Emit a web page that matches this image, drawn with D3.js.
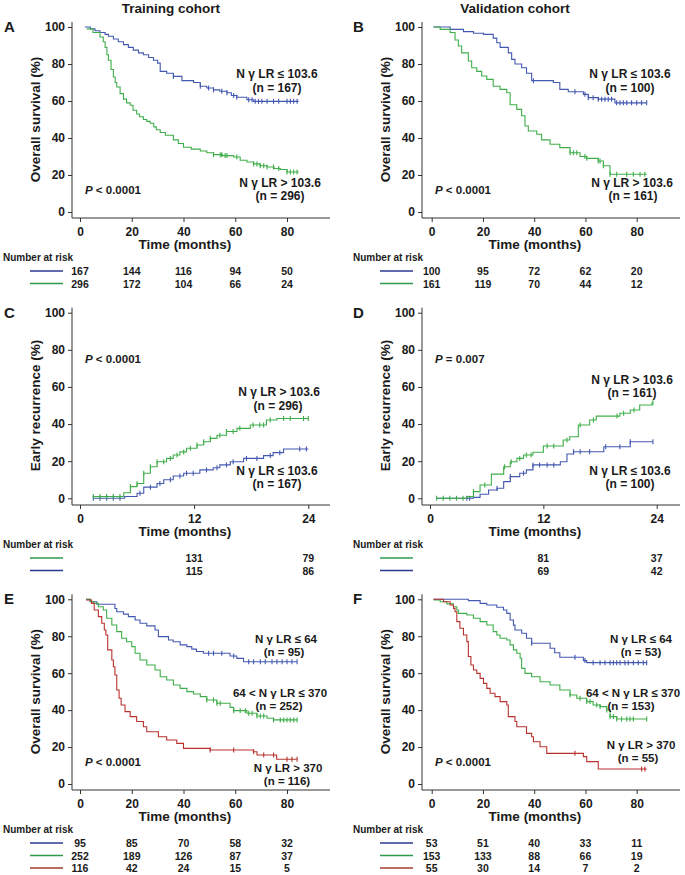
<!DOCTYPE html>
<html>
<head>
<meta charset="utf-8">
<script src="https://cdn.jsdelivr.net/npm/d3@7"></script>
<style>
  body { margin: 0; background: #fff; }
  svg text { font-family: "Liberation Sans", Arial, sans-serif; font-weight: bold; fill: #1a1a1a; }
</style>
</head>
<body>
<div id="chart"></div>
<script>
// ---- data ----
const osTicks = [0, 20, 40, 60, 80];
const erTicks = [0, 12, 24];
const pctTicks = [0, 20, 40, 60, 80, 100];

// A: training cohort, overall survival
const aLow = [[1.9,100],[4,99],[5.8,98],[7.7,97],[9.7,96],[11,95],[12.9,93.5],[14.8,92],[16.8,90.5],[18.7,89],[20.6,87.5],[22.6,86],[24.5,85],[26.5,83.5],[28.4,82],[30,80.5],[31,76],[33.5,75],[36.1,73.3],[39.4,71],[43.9,70],[46.5,68],[49,67],[51.6,66],[54,65.3],[56.8,64.5],[58.5,63],[60.6,62],[64.5,60.7],[67.1,59.8],[84.5,59.8]];
const aLowCens = [36.1,46.5,49.7,51.6,54.8,56.8,59.4,60.6,65.2,66.5,67.7,69,70.3,72.3,74.8,76.8,80,81.3,82.6,83.9];
const aHigh = [[2.6,99],[5,97],[7.7,94.6],[9,92],[9.7,89],[10.4,85],[11,82],[12,77],[12.9,73],[13.6,70],[14.2,67.6],[15.5,64],[16.8,61],[18,59],[19.4,57.7],[20.5,55],[21.9,53],[23,51.5],[24.5,50],[25.8,49],[27.1,48],[28.5,46],[29.5,44.5],[31,43],[33,41.5],[36.1,39],[38,37],[40,35],[43,34],[46.5,33],[49,32],[51.6,31],[55,30.5],[59.4,29.7],[61.9,28],[64.5,27],[67.1,26],[69.5,25],[72.3,24.3],[75,23.5],[77.4,23],[80,21.6],[84.5,21.6]];
const aHighCens = [51.6,54.2,54.8,56.1,56.8,60.6,67.1,68.4,69.7,71,72.3,74.8,76.8,80,81.3,82.6,83.9];
const riskA = [[167,144,116,94,50],[296,172,104,66,24]];

// B: validation cohort, overall survival
const bLow = [[0.7,100],[7.2,98.7],[12.4,97.5],[16.3,96.6],[20.2,96],[24,94],[25.4,91.5],[26.7,89],[29.9,86],[31.2,82.5],[32.5,80],[35.1,78],[37,75],[39,71],[47.5,70],[50,66.3],[53.3,65],[59.2,63.6],[61.1,61.8],[65,61],[71.5,59],[83.9,59]];
const bLowCens = [39.7,55.9,59.8,61.1,63,65,66.3,67.6,68.9,70.2,72.2,73.5,74.8,76.1,78,80,81.9,83.9];
const bHigh = [[0.7,100],[3.3,98.7],[7.2,97],[9.1,93],[10.4,89.7],[11.7,86],[14.3,81.6],[15.6,78],[17.6,76],[19.5,73.5],[21.5,71.7],[24,68],[26.7,66.3],[29.3,64.5],[30.6,58],[33.2,55.5],[35.1,52],[36.4,46.5],[37.7,43.8],[41,42],[42.9,39],[46.2,36.6],[50,34.8],[54,32],[57.9,30],[60.5,29],[65,27.6],[67,25],[69.6,20.4],[83.9,20.4]];
const bHighCens = [54,55.3,56.6,59.8,60.5,65,65.7,67,69.6,72.2,76.1,78.7,81.3,83.2];
const riskB = [[100,95,72,62,20],[161,119,70,44,12]];

// C: training cohort, early recurrence
const cHigh = [[1.4,1],[4.6,3],[5.3,6.3],[6,8],[6.7,13.5],[7.4,17],[8.1,19.7],[9.1,21.5],[9.8,23.3],[10.5,25],[11.2,27],[12.3,28.7],[13,30.5],[13.7,32.3],[14.4,34],[15.4,36],[16.5,37.7],[17.9,39.5],[19.6,42.2],[20.7,43],[24,43]];
const cHighCens = [1.4,2.1,2.8,3.5,4.2,5.3,6,6.7,7.4,8.1,8.8,9.5,10.2,10.9,11.6,12.3,13,13.7,14.7,15.4,16.1,16.8,18.2,18.9,19.3,20,21.4,22.1,23.5,24];
const cLow = [[1.4,0],[4.7,1],[6,2.7],[6.7,6],[8.1,8],[8.8,10],[9.8,12],[10.9,13.5],[12.6,15.3],[14,16.5],[14.7,18],[15.8,19.7],[17.2,21.5],[19.3,23],[20.3,24.6],[21.4,26.6],[24,26.6]];
const cLowCens = [1.4,2.1,2.8,3.5,4.2,6.3,7.4,8.4,9.5,10.5,11.2,11.9,13.3,14.4,15.4,16.1,17.5,18.6,20,21,23.1,23.8];
const riskC = [[131,79],[115,86]];

// D: validation cohort, early recurrence
const dHigh = [[0.7,0],[3.9,0.9],[4.6,3.6],[5.3,7.2],[6.5,13],[7.8,17],[8.5,19.7],[9.2,21.5],[9.9,23.3],[10.9,24.8],[12,28.2],[14.1,31.4],[14.8,33.2],[15.7,39.5],[16.9,42.2],[17.6,44.3],[20.1,45.8],[21.2,47.6],[22.2,50.3],[23.5,51.5],[23.6,51.5]];
const dHighCens = [0.7,1.4,2.1,2.8,3.5,4.6,5.8,7.9,8.6,9.5,10.2,10.7,12.4,13.1,14.5,15.9,17.3,19.8,20.5,21.6,23.6];
const dLow = [[0.7,0],[4.6,0.5],[5.3,2.2],[6.2,4.5],[7.1,5.4],[7.8,9],[8.5,11.7],[9.5,13.5],[10.2,15.3],[10.9,18],[13.8,19.7],[14.5,23.9],[15.2,25.1],[18.4,27.8],[21.2,30.5],[23.6,30.5]];
const dLowCens = [3.9,4.2,7.1,8.5,9.9,10.9,11.6,12.4,13.1,15.2,15.9,16.9,18.6,20.1,21.2,23.6];
const riskD = [[81,37],[69,42]];

// E: training cohort, three NγLR groups
const eLow = [[2.3,100],[3.9,98.7],[6.5,97.3],[13.5,95],[14.2,93.3],[16.8,92],[18.7,90.6],[21.3,88.8],[23.2,87],[25.8,85.6],[29,83.4],[30.3,79.8],[34.2,78],[36,77],[38.7,75.3],[41.3,74.4],[43.2,73],[45,71.7],[47.7,70.8],[58,69.3],[60.6,68],[63.2,66.2],[83.9,66.2]];
const eLowCens = [49.7,51.6,54.8,59.4,65.2,67.1,69.7,71.6,74.2,76.1,78.1,80,81.9,83.9];
const eMid = [[2.3,100],[3.9,98.7],[5.2,97.8],[7.1,96],[9,94.2],[10.3,89.7],[12.3,86.1],[14.2,82.5],[16.1,78.9],[18,77],[20,74.4],[21.3,70.8],[23.2,67.1],[25.8,64.4],[29,61.7],[31,58.1],[33.5,56.3],[36.1,53.6],[38.7,51.8],[41.3,50],[43.9,48.7],[46.5,47.3],[49,45.5],[52.9,43.7],[58,41.5],[59.4,39.7],[64.5,38.3],[68.4,36.8],[72.3,35.6],[74.8,34.7],[83.9,34.7]];
const eMidCens = [49,51.6,52.9,54.2,59.4,61.9,63.9,65.2,66.5,68.4,69.7,71,74.8,77.4,78.7,80,81.3,82.6,83.9];
const eHigh = [[2.3,99.6],[4.5,97.8],[5.5,94.2],[7.1,90.6],[8.4,87],[9.4,83.4],[10,80.7],[10.7,72.6],[12.3,67.1],[12.9,63.5],[13.5,59],[14.2,50.9],[15.1,46.4],[15.9,42.8],[17.4,39.2],[19.4,36.5],[21.9,33.8],[24.5,31],[25.8,28.3],[30.3,25.6],[33.5,23.8],[37.4,22],[40,19.3],[50.3,18.4],[67,17.5],[68.4,15.7],[76,13.4],[83.9,13.4]];
const eHighCens = [50.3,59.4,67.1,71,74.8,80,81.9,83.9];
const riskE = [[95,85,70,58,32],[252,189,126,87,37],[116,42,24,15,5]];

// F: validation cohort, three NγLR groups
const fLow = [[0.7,100],[14.3,99.3],[18.9,97.8],[21.5,96.9],[25.4,95.7],[28,94.2],[29.3,92.4],[30.6,88.8],[31.9,86],[32.5,83.4],[35.1,81.6],[37,78.9],[39,76.2],[46.2,73.5],[48,71.1],[50,68.6],[59.2,66.8],[60.5,65.7],[83.9,65.7]];
const fLowCens = [39,55.9,59.8,63,65.7,67.6,69.6,70.9,72.2,73.5,75.4,76.7,78.7,80.6,82.6,83.9];
const fMid = [[0.7,99.6],[3.3,98.7],[5.9,97.5],[8.5,96],[9.8,94.2],[10.4,92.4],[13.7,91.5],[16.3,89.7],[18.9,87.9],[21.5,86.1],[24,82.5],[25.4,80.7],[26.7,78.9],[29.3,78],[30.6,75.3],[31.9,72.6],[33.2,70.8],[34.5,68.1],[35.1,62.6],[36.4,59.9],[39,58.1],[42.3,55.4],[46.2,53.6],[50,50.9],[54,48.2],[56.6,46.4],[60.5,44.6],[63,42.8],[65.7,41.9],[68.3,40.1],[69.6,36.5],[72.2,35.2],[83.9,35.2]];
const fMidCens = [54,57.9,60.5,61.8,64.4,65.7,68.3,69.6,70.9,72.2,74.1,76.1,77.4,78.7,83.9];
const fHigh = [[0.7,100],[4.6,98.7],[7.2,96.9],[8.5,95.1],[9.1,93.3],[9.8,87.9],[11,84.3],[12.4,80.7],[13.7,77.1],[14.3,69],[15.3,64.4],[16.3,61.7],[17.6,59.9],[18.9,57.2],[20.2,54.5],[21.5,51.8],[22.8,49.1],[24.7,47.3],[26.7,44.6],[29.3,42.8],[29.9,36.5],[32.5,33.8],[33.2,31],[37,27.4],[39,25.6],[39.7,22.9],[42.3,20.2],[44.9,16.6],[59.2,14.8],[60.5,12.1],[65,8.1],[83.9,8.1]];
const fHighCens = [55.9,81.9,83.2];
const riskF = [[53,51,40,33,11],[153,133,88,66,19],[55,30,14,7,2]];

// ---- drawing ----
const blue = '#4358b0', green = '#3fae4a', red = '#b9322e';
const navy = '#2b3990', dkGreen = '#2e9a4c', dkRed = '#a33b2c';

const svg = d3.select('#chart').append('svg')
    .attr('width', 685).attr('height', 875);

svg.append('text').text('Training cohort')
   .attr('x', 171).attr('y', 13).attr('text-anchor', 'middle').style('font-size', '13.5px');
svg.append('text').text('Validation cohort')
   .attr('x', 515).attr('y', 13).attr('text-anchor', 'middle').style('font-size', '13.5px');

function stepValue(steps, t) {
    let v = steps[0][1];
    steps.forEach(s => { if (s[0] <= t) v = s[1]; });
    return v;
}

const cols = [
    {axisX: 72, right: 330, os: [80, 287], er: [80, 308.3], letterX: 4, lineX: [30, 63], riskLabelX: 3, timeX: 185},
    {axisX: 422, right: 680, os: [431.7, 636.7], er: [430, 656.7], letterX: 353, lineX: [380, 413], riskLabelX: 353, timeX: 535}
];
const rows = [
    {y: [212, 27], axisY: 218},
    {y: [498.3, 312.7], axisY: 505},
    {y: [784, 599.3], axisY: 790}
];

const panels = [
    {letter: 'A', col: 0, row: 0, kind: 'os', ytitle: 'Overall survival (%)',
     curves: [{s: aLow, c: aLowCens, color: blue}, {s: aHigh, c: aHighCens, color: green}],
     risk: riskA, riskColors: [navy, dkGreen],
     labels: [['N γ LR ≤ 103.6', 277, 78], ['(n = 167)', 277, 92], ['N γ LR > 103.6', 280, 187], ['(n = 296)', 280, 200]],
     p: ['< 0.0001', 85, 194]},
    {letter: 'B', col: 1, row: 0, kind: 'os', ytitle: 'Overall survival (%)',
     curves: [{s: bLow, c: bLowCens, color: blue}, {s: bHigh, c: bHighCens, color: green}],
     risk: riskB, riskColors: [navy, dkGreen],
     labels: [['N γ LR ≤ 103.6', 630, 78], ['(n = 100)', 630, 92], ['N γ LR > 103.6', 632, 187], ['(n = 161)', 633, 200]],
     p: ['< 0.0001', 435, 194]},
    {letter: 'C', col: 0, row: 1, kind: 'er', ytitle: 'Early recurrence (%)',
     curves: [{s: cLow, c: cLowCens, color: blue}, {s: cHigh, c: cHighCens, color: green}],
     risk: riskC, riskColors: [dkGreen, navy],
     labels: [['N γ LR > 103.6', 279, 396], ['(n = 296)', 278, 410], ['N γ LR ≤ 103.6', 277, 475], ['(n = 167)', 277, 488]],
     p: ['< 0.0001', 85, 363]},
    {letter: 'D', col: 1, row: 1, kind: 'er', ytitle: 'Early recurrence (%)',
     curves: [{s: dLow, c: dLowCens, color: blue}, {s: dHigh, c: dHighCens, color: green}],
     risk: riskD, riskColors: [dkGreen, navy],
     labels: [['N γ LR > 103.6', 632, 384], ['(n = 161)', 632, 397], ['N γ LR ≤ 103.6', 630, 475], ['(n = 100)', 630, 488]],
     p: ['= 0.007', 435, 363]},
    {letter: 'E', col: 0, row: 2, kind: 'os', ytitle: 'Overall survival (%)',
     curves: [{s: eLow, c: eLowCens, color: blue}, {s: eMid, c: eMidCens, color: green}, {s: eHigh, c: eHighCens, color: red}],
     risk: riskE, riskColors: [navy, dkGreen, dkRed],
     labels: [['N γ LR ≤ 64', 286, 643], ['(n = 95)', 284, 656], ['64 < N γ LR ≤ 370', 280, 697], ['(n = 252)', 279, 710], ['N γ LR > 370', 288, 772], ['(n = 116)', 287, 785]],
     p: ['< 0.0001', 85, 766]},
    {letter: 'F', col: 1, row: 2, kind: 'os', ytitle: 'Overall survival (%)',
     curves: [{s: fLow, c: fLowCens, color: blue}, {s: fMid, c: fMidCens, color: green}, {s: fHigh, c: fHighCens, color: red}],
     risk: riskF, riskColors: [navy, dkGreen, dkRed],
     labels: [['N γ LR ≤  64', 641, 643], ['(n = 53)', 641, 656], ['64 < N γ LR ≤ 370', 633, 697], ['(n = 153)', 631, 710], ['N γ LR > 370', 641, 749], ['(n = 55)', 638, 762]],
     p: ['< 0.0001', 435, 766]}
];

panels.forEach(p => {
    const col = cols[p.col], row = rows[p.row];
    const g = svg.append('g');
    const ticks = p.kind === 'os' ? osTicks : erTicks;
    const x = d3.scaleLinear().domain([0, p.kind === 'os' ? 80 : 24]).range(p.kind === 'os' ? col.os : col.er);
    const y = d3.scaleLinear().domain([0, 100]).range(row.y);

    // axes
    const yAxis = g.append('g').attr('transform', 'translate(' + col.axisX + ',0)')
        .call(d3.axisLeft(y).tickValues(pctTicks).tickSize(4).tickPadding(3));
    const xAxis = g.append('g').attr('transform', 'translate(0,' + row.axisY + ')')
        .call(d3.axisBottom(x).tickValues(ticks).tickSize(4).tickPadding(5));
    [yAxis, xAxis].forEach(a => {
        a.select('.domain').remove();
        a.selectAll('line').attr('stroke', '#333');
        a.selectAll('text').style('font-size', '12px').style('font-family', '"Liberation Sans", Arial, sans-serif');
    });
    g.append('line').attr('x1', col.axisX).attr('x2', col.axisX)
     .attr('y1', row.y[1] - 5).attr('y2', row.axisY).attr('stroke', '#333');
    g.append('line').attr('x1', col.axisX).attr('x2', col.right)
     .attr('y1', row.axisY).attr('y2', row.axisY).attr('stroke', '#333');

    // titles
    g.append('text').text(p.letter).attr('x', col.letterX).attr('y', row.y[1] + 5)
     .style('font-size', '15px');
    g.append('text').text(p.ytitle)
     .attr('transform', 'translate(' + (col.axisX - 32) + ',' + ((row.y[0] + row.y[1]) / 2) + ') rotate(-90)')
     .attr('text-anchor', 'middle').style('font-size', '13.5px');
    g.append('text').text('Time (months)')
     .attr('x', col.timeX)
     .attr('y', row.axisY + 31).attr('text-anchor', 'middle').style('font-size', '13.5px');

    // curves
    const line = d3.line().x(d => x(d[0])).y(d => y(d[1])).curve(d3.curveStepAfter);
    p.curves.forEach(c => {
        g.append('path').attr('d', line(c.s)).attr('fill', 'none')
         .attr('stroke', c.color).attr('stroke-width', 1.1);
        g.selectAll(null).data(c.c).enter().append('line')
         .attr('x1', d => x(d)).attr('x2', d => x(d))
         .attr('y1', d => y(stepValue(c.s, d)) - 2.5).attr('y2', d => y(stepValue(c.s, d)) + 2.5)
         .attr('stroke', c.color).attr('stroke-width', 1.1);
    });

    // labels
    const labelSize = p.curves.length > 2 ? '11.5px' : '12px';
    p.labels.forEach(l => {
        g.append('text').text(l[0]).attr('x', l[1]).attr('y', l[2])
         .attr('text-anchor', 'middle').style('font-size', labelSize);
    });
    const pt = g.append('text').attr('x', p.p[1]).attr('y', p.p[2]).style('font-size', '11.5px');
    pt.append('tspan').text('P').style('font-style', 'italic');
    pt.append('tspan').text(' ' + p.p[0]);

    // number at risk
    g.append('text').text('Number at risk').attr('x', col.riskLabelX).attr('y', row.axisY + 43)
     .style('font-size', '10px');
    const riskTicks = p.kind === 'os' ? osTicks : erTicks.slice(1);
    p.risk.forEach((r, i) => {
        const yy = row.axisY + 57 + i * 12.5;
        g.append('line').attr('x1', col.lineX[0]).attr('x2', col.lineX[1])
         .attr('y1', yy - 4).attr('y2', yy - 4).attr('stroke', p.riskColors[i]).attr('stroke-width', 1.6);
        g.selectAll(null).data(r).enter().append('text')
         .text(d => d)
         .attr('x', (d, j) => x(riskTicks[j]))
         .attr('y', yy).attr('text-anchor', 'middle').style('font-size', '10.5px');
    });
});
</script>
</body>
</html>
